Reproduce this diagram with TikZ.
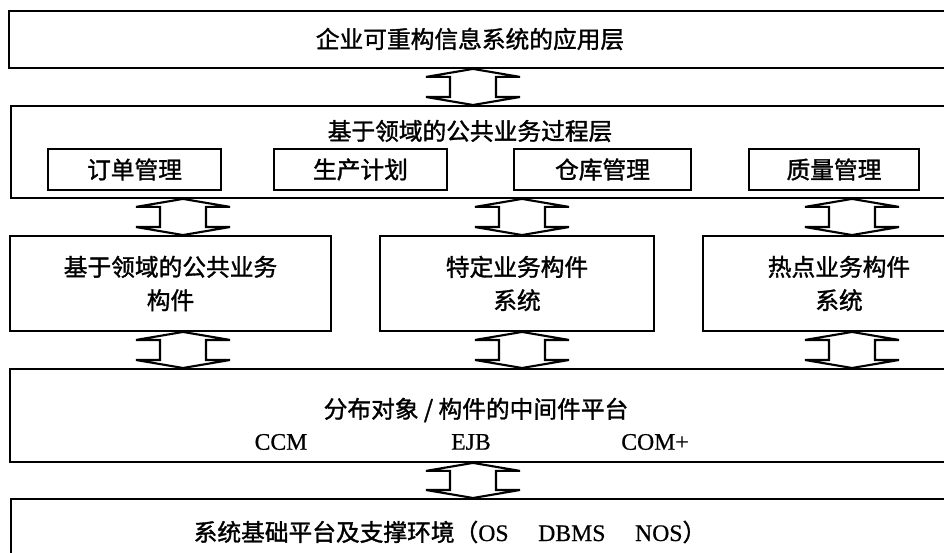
\documentclass[tikz,border=0pt]{standalone}
\usepackage{fontspec}
\setmainfont[FakeBold=0.6]{Liberation Serif}
\newfontfamily\cjk[FakeBold=1.4]{Noto Sans CJK SC}
\usetikzlibrary{calc}

\tikzset{
    layer/.style={draw, line width=1.1pt, anchor=north west, inner sep=0pt},
    module/.style={draw, line width=1.1pt, inner sep=0pt, minimum height=0.82cm,
        font=\cjk\fontsize{13.5}{19}\selectfont},
    component/.style={draw, line width=1.1pt, inner sep=0pt, minimum height=1.9cm,
        align=center, font=\cjk\fontsize{13.5}{19}\selectfont},
    caption/.style={inner sep=0pt, font=\cjk\fontsize{13.5}{19}\selectfont},
    tech/.style={inner sep=0pt, font=\fontsize{13.5}{15}\selectfont},
    blockarrow/.style={draw, fill=white, line width=1.2pt, line join=miter}
}

% x, upper node, lower node
\newcommand{\linkarrow}[3]{%
    \coordinate (tipa) at (#1,0 |- #2.south);
    \coordinate (tipb) at (#1,0 |- #3.north);
    \draw[blockarrow] (tipa) -- ++(-47,8) -- ++(24,0) -- ($(tipb)+(-23,-8)$) -- ++(-24,0)
        -- (tipb) -- ++(47,-8) -- ++(-24,0) -- ($(tipa)+(23,8)$) -- ++(24,0) -- cycle;
}

\begin{document}
\begin{tikzpicture}[x=0.02cm, y=-0.02cm]
    \useasboundingbox (0,0) rectangle (944,553);
    \clip (0,0) rectangle (944,553);

    % layers
    \node[layer, minimum width=19.04cm, minimum height=1.14cm] (app) at (8,10) {};
    \node[caption] (apptext) at (470,39) {企业可重构信息系统的应用层};

    \node[layer, minimum width=19cm, minimum height=1.84cm] (process) at (10,105) {};
    \node[caption] (processtext) at (470,131) {基于领域的公共业务过程层};
    \node[module, minimum width=3.46cm] (order) at (134.5,169.5) {订单管理};
    \node[module, minimum width=3.46cm] (plan) at (360.5,169.5) {生产计划};
    \node[module, minimum width=3.54cm] (store) at (602.5,169.5) {仓库管理};
    \node[module, minimum width=3.40cm] (quality) at (834,169.5) {质量管理};

    \node[component, minimum width=6.42cm] (common) at (170.5,283.5) {基于领域的公共业务\\构件};
    \node[component, minimum width=5.48cm] (special) at (517,283.5) {特定业务构件\\系统};
    \node[component, minimum width=5.44cm] (hot) at (839,283.5) {热点业务构件\\系统};

    \node[layer, minimum width=19.02cm, minimum height=1.86cm] (middle) at (9,368) {};
    \node[caption] (middletext) at (476,410) {分布对象 / 构件的中间件平台};
    \node[tech] (ccm) at (281,442) {CCM};
    \node[tech] (ejb) at (471,442) {EJB};
    \node[tech] (com) at (655,442) {COM+};

    \node[layer, minimum width=19cm, minimum height=1.64cm] (base) at (10,498) {};
    \node[caption] (basetext) at (450,532) {系统基础平台及支撑环境（{\rmfamily\fontsize{13.5}{15}\selectfont OS\quad\ DBMS\quad\ NOS}）};

    % connectors
    \linkarrow{473}{app}{process}
    \foreach \x/\upper/\lower in {183/process/common, 522/process/special, 852/process/hot,
                                  183/common/middle, 522/special/middle, 852/hot/middle}
        {\linkarrow{\x}{\upper}{\lower}}
    \linkarrow{473}{middle}{base}
\end{tikzpicture}
\end{document}
